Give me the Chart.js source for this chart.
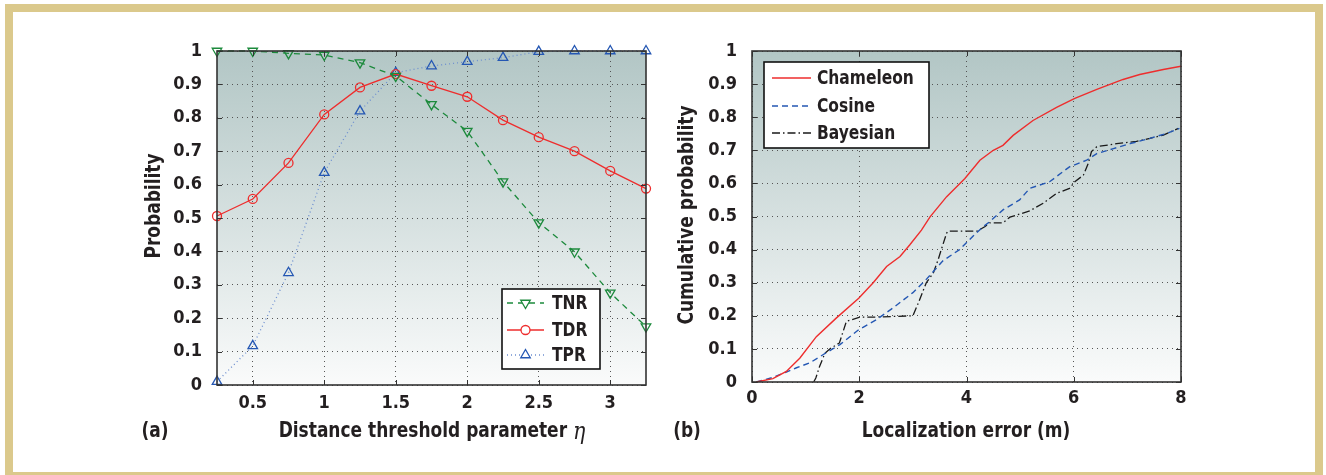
<!DOCTYPE html>
<html><head><meta charset="utf-8">
<script src="https://cdn.jsdelivr.net/npm/chart.js@4.4.1/dist/chart.umd.min.js"></script>
<style>
html,body{margin:0;padding:0;background:#fff;width:1326px;height:475px;overflow:hidden;position:relative}
#frame{position:absolute;left:5px;top:4px;width:1318px;height:476px;box-sizing:border-box;border:8px solid #dbc98c;background:#fff}
canvas{position:absolute;top:0}
#c1{left:0}
#c2{left:663px}
</style></head><body>
<div id="frame"></div>
<canvas id="c1" width="663" height="475"></canvas>
<canvas id="c2" width="663" height="475"></canvas>
<script>
// ---------- data: panel (a) ----------
const eta = [0.25, 0.5, 0.75, 1.0, 1.25, 1.5, 1.75, 2.0, 2.25, 2.5, 2.75, 3.0, 3.25];
const tnr = [1.0, 1.0, 0.993, 0.988, 0.965, 0.925, 0.84, 0.76, 0.609, 0.486, 0.399, 0.276, 0.175];
const tdr = [0.506, 0.557, 0.665, 0.81, 0.891, 0.931, 0.896, 0.863, 0.793, 0.742, 0.70, 0.641, 0.588];
const tpr = [0.01, 0.117, 0.336, 0.636, 0.82, 0.935, 0.955, 0.968, 0.98, 0.998, 1.0, 1.0, 1.0];
const xTicksA = [0.5, 1, 1.5, 2, 2.5, 3];
const xTickLabelsA = ['0.5', '1', '1.5', '2', '2.5', '3'];
const yTicks = [0, 0.1, 0.2, 0.3, 0.4, 0.5, 0.6, 0.7, 0.8, 0.9, 1];
const yTickLabels = ['0', '0.1', '0.2', '0.3', '0.4', '0.5', '0.6', '0.7', '0.8', '0.9', '1'];

// ---------- data: panel (b) ----------
const chamX = [0.08, 0.39, 0.64, 0.89, 1.2, 1.57, 1.99, 2.26, 2.51, 2.76, 2.94, 3.16, 3.32, 3.63, 3.97, 4.25, 4.5, 4.68, 4.87, 5.24, 5.68, 6.02, 6.43, 6.92, 7.23, 7.67, 8.0];
const chamY = [0, 0.01, 0.032, 0.072, 0.137, 0.193, 0.253, 0.30, 0.349, 0.379, 0.414, 0.459, 0.499, 0.56, 0.615, 0.67, 0.70, 0.715, 0.745, 0.79, 0.83, 0.857, 0.884, 0.914, 0.929, 0.944, 0.954];
const cosX = [0.08, 0.39, 0.64, 0.83, 1.08, 1.33, 1.64, 1.99, 2.32, 2.63, 3.0, 3.25, 3.56, 3.87, 4.12, 4.31, 4.43, 4.68, 4.99, 5.18, 5.55, 5.92, 6.24, 6.43, 6.74, 7.05, 7.42, 7.73, 7.97];
const cosY = [0, 0.014, 0.03, 0.043, 0.058, 0.083, 0.113, 0.158, 0.188, 0.224, 0.27, 0.31, 0.366, 0.40, 0.44, 0.469, 0.484, 0.52, 0.55, 0.585, 0.605, 0.65, 0.67, 0.69, 0.705, 0.72, 0.736, 0.751, 0.766];
const bayX = [1.15, 1.19, 1.26, 1.36, 1.45, 1.63, 1.69, 1.76, 2.01, 2.26, 2.63, 3.0, 3.1, 3.25, 3.38, 3.47, 3.53, 3.63, 3.66, 4.2, 4.34, 4.43, 4.68, 4.81, 5.18, 5.43, 5.68, 5.92, 6.02, 6.18, 6.27, 6.33, 6.43, 6.8, 7.17, 7.42, 7.67, 7.95];
const bayY = [0, 0.012, 0.047, 0.087, 0.10, 0.118, 0.148, 0.183, 0.196, 0.196, 0.198, 0.20, 0.238, 0.30, 0.329, 0.369, 0.40, 0.45, 0.456, 0.456, 0.469, 0.481, 0.481, 0.498, 0.517, 0.54, 0.57, 0.585, 0.605, 0.625, 0.66, 0.696, 0.711, 0.72, 0.727, 0.736, 0.746, 0.766];
const xTicksB = [0, 2, 4, 6, 8];
const xTickLabelsB = ['0', '2', '4', '6', '8'];

// ---------- style ----------
const FONT = "'Liberation Sans Narrow','DejaVu Sans Condensed','Liberation Sans',sans-serif";
const INK = '#231f20';
const RED = '#ee2d2d', GREEN = '#1c8a3c', BLUE = '#2457b3', BLUE_LINE = '#6d8fd0', BLACK = '#1a1a1a';
const CLEAR = 'rgba(0,0,0,0)';
const SX = 0.86; // horizontal squeeze for condensed titles
Chart.defaults.font.family = FONT;
Chart.defaults.color = INK;

const pts = (xs, ys) => xs.map((x, i) => ({x: x, y: ys[i]}));

function decor(o) {
  return {
    id: 'decor',
    beforeDraw(chart) {
      const {ctx, chartArea: a} = chart;
      const g = ctx.createLinearGradient(0, a.top, 0, a.bottom);
      g.addColorStop(0, '#b2c6c5');
      g.addColorStop(1, '#fafbfb');
      ctx.save();
      ctx.fillStyle = g;
      ctx.fillRect(a.left, a.top, a.right - a.left, a.bottom - a.top);
      ctx.restore();
    },
    afterDraw(chart) {
      const {ctx, chartArea: a, scales} = chart;
      ctx.save();
      ctx.strokeStyle = '#333';
      ctx.lineWidth = 1;
      const seg = (x1, y1, x2, y2) => { ctx.beginPath(); ctx.moveTo(x1, y1); ctx.lineTo(x2, y2); ctx.stroke(); };
      scales.x.ticks.forEach(t => {
        const p = Math.round(scales.x.getPixelForValue(t.value)) + 0.5;
        seg(p, a.bottom, p, a.bottom - 5); seg(p, a.top, p, a.top + 5);
      });
      scales.y.ticks.forEach(t => {
        const p = Math.round(scales.y.getPixelForValue(t.value)) + 0.5;
        seg(a.left, p, a.left + 5, p); seg(a.right, p, a.right - 5, p);
      });
      ctx.lineWidth = 1.6;
      ctx.strokeRect(a.left, a.top, a.right - a.left, a.bottom - a.top);

      // legend
      const L = o.legend;
      ctx.fillStyle = '#fff';
      ctx.fillRect(L.x, L.y, L.w, L.h);
      ctx.strokeStyle = '#111';
      ctx.lineWidth = 1.6;
      ctx.strokeRect(L.x, L.y, L.w, L.h);
      chart.data.datasets.forEach((ds, i) => {
        const y = L.rows[i];
        ctx.save();
        ctx.strokeStyle = ds.borderColor;
        ctx.lineWidth = ds.borderWidth;
        ctx.setLineDash(ds.borderDash || []);
        seg(L.x0, y, L.x1, y);
        ctx.restore();
        if (ds.pointRadius > 0) {
          ctx.save();
          ctx.strokeStyle = ds.pointBorderColor;
          ctx.fillStyle = '#fff';
          ctx.lineWidth = ds.pointBorderWidth;
          Chart.helpers.drawPoint(ctx, {pointStyle: ds.pointStyle, rotation: ds.pointRotation || 0, radius: ds.pointRadius, borderWidth: ds.pointBorderWidth}, (L.x0 + L.x1) / 2, y);
          ctx.restore();
        }
        ctx.save();
        ctx.fillStyle = INK;
        ctx.font = 'bold 20px ' + FONT;
        ctx.textAlign = 'left';
        ctx.textBaseline = 'middle';
        ctx.translate(L.tx, y + 1);
        ctx.scale(SX, 1);
        ctx.fillText(ds.label, 0, 0);
        ctx.restore();
      });

      // titles
      ctx.fillStyle = INK;
      ctx.textBaseline = 'middle';
      o.titles.forEach(t => {
        ctx.save();
        ctx.translate(t.x, t.y);
        ctx.rotate(t.rot || 0);
        ctx.scale(SX, 1);
        ctx.font = 'bold 22px ' + FONT;
        ctx.textAlign = 'center';
        if (t.italic) {
          const w1 = ctx.measureText(t.text).width;
          ctx.font = 'italic 24px "DejaVu Serif", "Liberation Serif", serif';
          const w2 = ctx.measureText(t.italic).width;
          const start = -(w1 + w2) / 2;
          ctx.textAlign = 'left';
          ctx.font = 'bold 22px ' + FONT;
          ctx.fillText(t.text, start, 0);
          ctx.font = 'italic 24px "DejaVu Serif", "Liberation Serif", serif';
          ctx.fillText(t.italic, start + w1, 2);
        } else {
          ctx.fillText(t.text, 0, 0);
        }
        ctx.restore();
      });
      ctx.restore();
    }
  };
}

function axes(xMin, xMax, xTicks, xLabels, yWidth, xHeight, xPad) {
  const tickFont = {family: FONT, size: 18, weight: 'bold'};
  const grid = {color: '#555', lineWidth: 1, drawTicks: false};
  return {
    x: {
      type: 'linear', min: xMin, max: xMax,
      afterBuildTicks: s => { s.ticks = xTicks.map(v => ({value: v})); },
      afterFit: s => { s.height = xHeight; },
      ticks: {font: tickFont, color: INK, padding: xPad, maxRotation: 0, autoSkip: false,
              callback: (v, i) => xLabels[i]},
      grid: grid,
      border: {display: false, dash: [1, 4]}
    },
    y: {
      type: 'linear', min: 0, max: 1,
      afterBuildTicks: s => { s.ticks = yTicks.map(v => ({value: v})); },
      afterFit: s => { s.width = yWidth; },
      ticks: {font: tickFont, color: INK, padding: 15, autoSkip: false,
              callback: (v, i) => yTickLabels[i]},
      grid: grid,
      border: {display: false, dash: [1, 4]}
    }
  };
}

const common = {
  responsive: false, animation: false,
  plugins: {legend: {display: false}, tooltip: {enabled: false}},
};

new Chart(document.getElementById('c1'), {
  type: 'line',
  data: {
    datasets: [
      {label: 'TNR', data: pts(eta, tnr), borderColor: GREEN, borderWidth: 1.3, borderDash: [6, 5],
       pointStyle: 'triangle', pointRotation: 180, pointRadius: 5.5, pointBorderColor: GREEN, pointBackgroundColor: CLEAR, pointBorderWidth: 1.3, clip: false},
      {label: 'TDR', data: pts(eta, tdr), borderColor: RED, borderWidth: 1.3,
       pointStyle: 'circle', pointRadius: 4.5, pointBorderColor: RED, pointBackgroundColor: CLEAR, pointBorderWidth: 1.3, clip: false},
      {label: 'TPR', data: pts(eta, tpr), borderColor: BLUE_LINE, borderWidth: 1.3, borderDash: [1, 3],
       pointStyle: 'triangle', pointRadius: 5.5, pointBorderColor: BLUE, pointBackgroundColor: CLEAR, pointBorderWidth: 1.3, clip: false}
    ]
  },
  options: Object.assign({}, common, {
    layout: {padding: {left: 0, right: 17, top: 51, bottom: 0}},
    scales: axes(0.25, 3.25, xTicksA, xTickLabelsA, 217, 90, 8)
  }),
  plugins: [decor({
    legend: {x: 502, y: 289, w: 98, h: 80, rows: [303, 330, 355], x0: 507, x1: 544, tx: 552},
    titles: [
      {text: 'Probability', x: 154, y: 206, rot: -Math.PI / 2},
      {text: 'Distance threshold parameter ', italic: 'η', x: 432, y: 431},
      {text: '(a)', x: 155, y: 431}
    ]
  })]
});

new Chart(document.getElementById('c2'), {
  type: 'line',
  data: {
    datasets: [
      {label: 'Chameleon', data: pts(chamX, chamY), borderColor: RED, borderWidth: 1.4, pointRadius: 0},
      {label: 'Cosine', data: pts(cosX, cosY), borderColor: BLUE, borderWidth: 1.4, borderDash: [6, 4], pointRadius: 0},
      {label: 'Bayesian', data: pts(bayX, bayY), borderColor: BLACK, borderWidth: 1.3, borderDash: [8, 3, 1.5, 3], pointRadius: 0}
    ]
  },
  options: Object.assign({}, common, {
    layout: {padding: {left: 0, right: 145, top: 51, bottom: 0}},
    scales: axes(0, 8, xTicksB, xTickLabelsB, 89, 93, 6)
  }),
  plugins: [decor({
    legend: {x: 101, y: 62, w: 165, h: 86, rows: [78, 106, 133], x0: 109, x1: 148, tx: 154},
    titles: [
      {text: 'Cumulative probability', x: 24, y: 215, rot: -Math.PI / 2},
      {text: 'Localization error (m)', x: 303, y: 431},
      {text: '(b)', x: 24, y: 431}
    ]
  })]
});
</script>
</body></html>
